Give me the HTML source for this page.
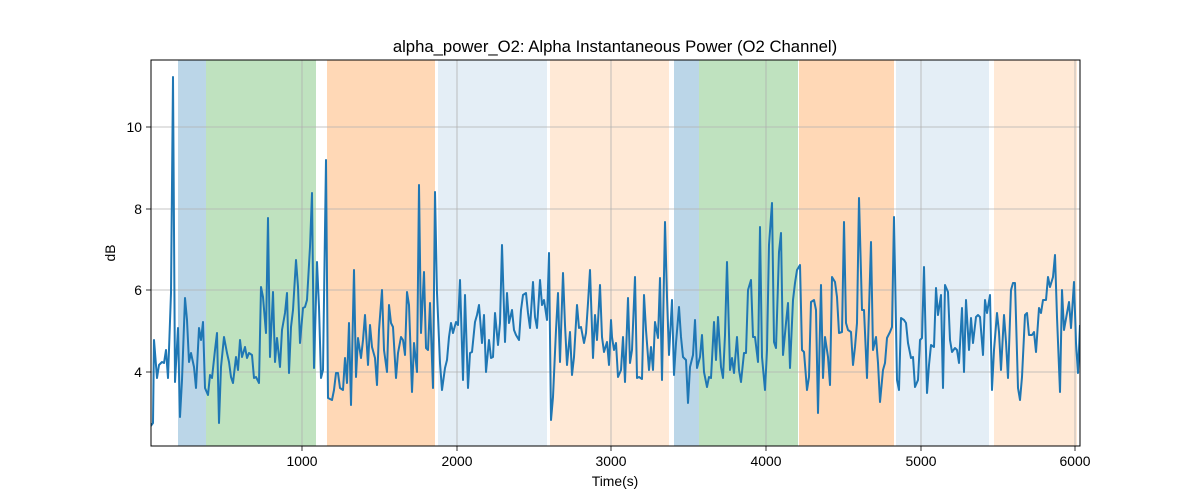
<!DOCTYPE html>
<html><head><meta charset="utf-8"><style>body{margin:0;background:#fff}svg{display:block}text{font-family:"Liberation Sans","DejaVu Sans",sans-serif;fill:#000}</style></head><body>
<svg width="1200" height="500" viewBox="0 0 1200 500" xmlns="http://www.w3.org/2000/svg">
<defs><clipPath id="c"><rect x="151" y="60" width="929" height="386"/></clipPath></defs>
<g>
<rect x="178" y="60" width="28" height="386" fill="rgb(31,119,180)" fill-opacity="0.3"/>
<rect x="206" y="60" width="110" height="386" fill="rgb(44,160,44)" fill-opacity="0.3"/>
<rect x="327" y="60" width="108" height="386" fill="rgb(255,127,14)" fill-opacity="0.3"/>
<rect x="438" y="60" width="109" height="386" fill="rgb(31,119,180)" fill-opacity="0.12"/>
<rect x="550" y="60" width="119" height="386" fill="rgb(255,127,14)" fill-opacity="0.17"/>
<rect x="674" y="60" width="25" height="386" fill="rgb(31,119,180)" fill-opacity="0.3"/>
<rect x="699" y="60" width="99" height="386" fill="rgb(44,160,44)" fill-opacity="0.3"/>
<rect x="799" y="60" width="95" height="386" fill="rgb(255,127,14)" fill-opacity="0.3"/>
<rect x="896" y="60" width="93" height="386" fill="rgb(31,119,180)" fill-opacity="0.12"/>
<rect x="994" y="60" width="83" height="386" fill="rgb(255,127,14)" fill-opacity="0.17"/>
</g>
<g stroke="#b0b0b0" stroke-width="0.8">
<line x1="302" y1="60" x2="302" y2="446"/><line x1="457" y1="60" x2="457" y2="446"/><line x1="611" y1="60" x2="611" y2="446"/><line x1="766" y1="60" x2="766" y2="446"/><line x1="921" y1="60" x2="921" y2="446"/><line x1="1075" y1="60" x2="1075" y2="446"/>
<line x1="151" y1="372" x2="1080" y2="372"/><line x1="151" y1="290" x2="1080" y2="290"/><line x1="151" y1="209" x2="1080" y2="209"/><line x1="151" y1="127" x2="1080" y2="127"/>
</g>
<polyline clip-path="url(#c)" fill="none" stroke="#1f77b4" stroke-width="2" stroke-linejoin="round" points="150,427 153,423 154,340 157,378 159,365 162,362 164,363 166,350 168,378 171,293 173,77 175,382 178,328 180,417 182,380 185,298 187,320 189,362 191,353 194,367 196,388 199,328 201,340 203,322 205,388 208,395 210,375 212,378 215,350 217,333 219,423 221,367 224,337 227,353 229,362 231,377 233,383 236,357 238,370 240,340 242,357 245,347 247,358 249,353 252,355 254,378 256,377 259,383 261,287 263,297 266,333 268,218 270,357 273,292 275,362 277,338 280,367 282,330 285,313 287,293 289,373 291,327 293,310 296,260 298,287 300,343 303,308 305,307 307,300 310,247 312,193 314,368 317,262 319,307 321,378 323,370 326,160 328,398 332,400 334,390 336,373 338,373 340,388 343,390 345,358 347,383 349,323 351,405 354,270 356,377 358,338 361,358 363,340 365,315 368,365 370,325 372,347 375,358 377,385 379,330 382,290 384,350 387,372 389,305 391,323 393,327 396,378 398,353 401,337 403,340 405,355 407,292 409,305 412,392 414,343 417,372 419,185 421,333 424,272 426,348 428,350 430,303 433,388 435,192 437,293 440,363 442,390 445,368 447,360 449,337 451,323 453,333 456,322 458,325 460,280 463,380 465,295 468,388 470,353 472,352 475,322 477,315 479,305 482,343 484,315 486,372 489,340 491,358 493,357 495,313 498,345 500,323 502,245 505,342 507,293 509,323 512,310 514,330 516,335 519,340 521,310 523,295 526,293 528,313 530,328 533,282 535,317 537,328 540,280 542,305 544,300 547,320 549,253 551,420 553,397 556,330 558,293 560,362 563,273 565,325 567,365 570,332 572,375 574,357 577,305 579,328 581,327 584,343 586,333 588,303 590,270 593,358 595,315 597,340 600,285 602,337 604,352 607,342 609,365 611,320 612,337 614,350 616,343 618,377 621,370 623,337 625,382 628,298 630,363 632,350 635,277 637,378 639,377 642,379 644,295 646,330 649,370 651,347 653,370 655,322 658,338 660,278 662,380 665,222 667,297 669,355 672,300 674,375 676,343 679,307 681,337 683,357 686,360 688,403 690,367 693,355 695,320 697,368 700,357 702,335 704,372 707,387 709,377 711,378 714,322 716,360 718,317 721,367 723,378 725,335 727,262 730,370 732,358 734,373 737,337 739,370 741,382 744,353 746,353 748,290 751,280 753,337 755,337 758,362 760,227 762,357 765,390 767,350 769,245 772,203 774,342 776,348 779,252 781,233 783,355 786,323 788,303 790,368 793,300 795,283 797,270 800,265 802,350 804,352 807,390 809,377 811,302 814,300 816,310 818,413 821,285 823,378 825,337 828,357 830,385 832,277 835,282 837,297 839,333 842,332 844,222 846,323 848,330 851,332 853,365 855,347 857,323 859,198 862,310 864,310 867,378 869,310 871,242 873,350 876,337 878,363 880,402 883,370 885,363 887,338 890,332 892,327 894,217 897,380 899,390 901,318 904,320 906,323 908,343 911,358 913,357 915,387 918,380 920,340 922,338 924,267 927,393 929,365 931,345 934,347 936,288 938,315 941,295 943,388 945,285 948,292 950,340 952,352 955,348 957,350 959,363 962,308 964,372 966,300 969,350 971,318 973,343 976,317 978,315 980,317 983,355 985,300 987,313 990,295 992,390 994,350 997,313 999,332 1001,370 1004,315 1006,342 1008,378 1011,290 1013,283 1015,283 1018,388 1020,400 1022,377 1025,315 1027,313 1029,335 1032,335 1034,332 1036,352 1039,308 1041,313 1043,300 1046,300 1048,277 1050,287 1053,277 1055,255 1057,317 1060,392 1062,290 1064,330 1067,313 1069,302 1071,328 1074,282 1076,343 1078,373 1080,325"/>
<rect x="151" y="60" width="929" height="386" fill="none" stroke="#000" stroke-width="1"/>
<g stroke="#000" stroke-width="0.8">
<line x1="302" y1="446" x2="302" y2="451"/><line x1="457" y1="446" x2="457" y2="451"/><line x1="611" y1="446" x2="611" y2="451"/><line x1="766" y1="446" x2="766" y2="451"/><line x1="921" y1="446" x2="921" y2="451"/><line x1="1075" y1="446" x2="1075" y2="451"/>
<line x1="146" y1="372" x2="151" y2="372"/><line x1="146" y1="290" x2="151" y2="290"/><line x1="146" y1="209" x2="151" y2="209"/><line x1="146" y1="127" x2="151" y2="127"/>
</g>
<g font-size="13.9" text-anchor="middle">
<text x="302" y="466">1000</text><text x="457" y="466">2000</text><text x="611" y="466">3000</text><text x="766" y="466">4000</text><text x="921" y="466">5000</text><text x="1075" y="466">6000</text>
<text x="615" y="486">Time(s)</text>
</g>
<g font-size="13.9" text-anchor="end">
<text x="142" y="377">4</text><text x="142" y="295">6</text><text x="142" y="214">8</text><text x="142" y="132">10</text>
</g>
<text x="115" y="253" font-size="13.9" text-anchor="middle" transform="rotate(-90 115 253)">dB</text>
<text x="615" y="52" font-size="16.7" text-anchor="middle">alpha_power_O2: Alpha Instantaneous Power (O2 Channel)</text>
</svg>
</body></html>
